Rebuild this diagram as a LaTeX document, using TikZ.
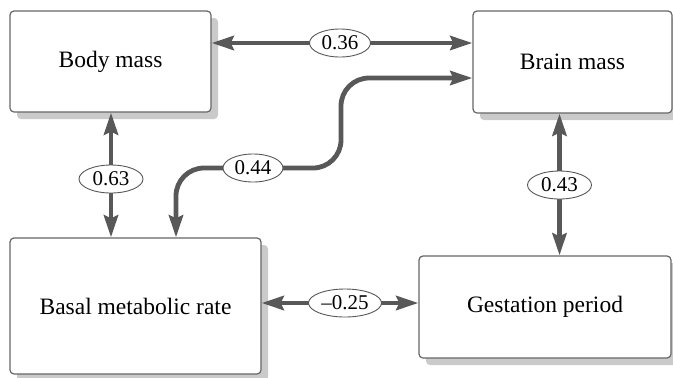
\documentclass[tikz,border=0pt]{standalone}
\usepackage{fontspec}
\setmainfont{Liberation Serif}
\usetikzlibrary{arrows.meta,shapes.geometric}
\definecolor{arrgray}{HTML}{585858}
\definecolor{boxline}{HTML}{666666}
\definecolor{shadowgray}{HTML}{CACACA}
\begin{document}
\begin{tikzpicture}[x=1bp,y=-1bp,
  varbox/.style={draw=boxline, line width=1.2bp, fill=white, rounded corners=4bp,
    inner sep=0pt, font=\fontsize{23.5bp}{28bp}\selectfont},
  arr/.style={draw=arrgray, line width=4.8bp,
    {Stealth[length=22bp,width=14bp,inset=3bp]}-{Stealth[length=22bp,width=14bp,inset=3bp]}},
  coef/.style={draw=arrgray, line width=0.9bp, fill=white, ellipse, inner sep=0pt,
    minimum height=28bp, font=\fontsize{21bp}{25bp}\selectfont}]
\useasboundingbox (0,0) rectangle (673,377);
\fill[white] (0,0) rectangle (673,377);
% shadows
\fill[shadowgray, rounded corners=4bp] (17,18) rectangle (218,119);
\fill[shadowgray, rounded corners=4bp] (480,18) rectangle (679,120);
\fill[shadowgray, rounded corners=4bp] (17,245) rectangle (268,381);
\fill[shadowgray, rounded corners=4bp] (426,263) rectangle (678,365);
% boxes
\node[varbox, minimum width=201bp, minimum height=101bp] (body) at (110.5,61.5) {Body mass};
\node[varbox, minimum width=199bp, minimum height=102bp] (brain) at (572.5,62) {Brain mass};
\node[varbox, minimum width=251bp, minimum height=136bp] (basal) at (135.5,306) {Basal metabolic rate};
\node[varbox, minimum width=252bp, minimum height=102bp] (gest) at (545,307) {Gestation period};
% label positions
\coordinate (p36) at (340,43);
\coordinate (p63) at (111,179);
\coordinate (p43) at (559.5,185);
\coordinate (p25) at (345,303);
\coordinate (p44) at (253,168);
\coordinate (k1) at (341,78);
\coordinate (k2) at (176,168);
% connectors
\draw[arr] (body.east |- p36) -- (brain.west |- p36);
\draw[arr] (body.south -| p63) -- (basal.north -| p63);
\draw[arr] (brain.south -| p43) -- (gest.north -| p43);
\draw[arr] (basal.east |- p25) -- (gest.west |- p25);
\draw[arr, rounded corners=28bp] (brain.west |- k1) -- (k1) -- (k1 |- k2) -- (k2) -- (k2 |- basal.north);
% coefficients
\node[coef, minimum width=61bp] (l36) at (p36) {0.36};
\node[coef, minimum width=64bp] (l63) at (p63) {0.63};
\node[coef, minimum width=64bp] (l43) at (p43) {0.43};
\node[coef, minimum width=73bp] (l25) at (p25) {–0.25};
\node[coef, minimum width=60bp] (l44) at (p44) {0.44};
\end{tikzpicture}
\end{document}
